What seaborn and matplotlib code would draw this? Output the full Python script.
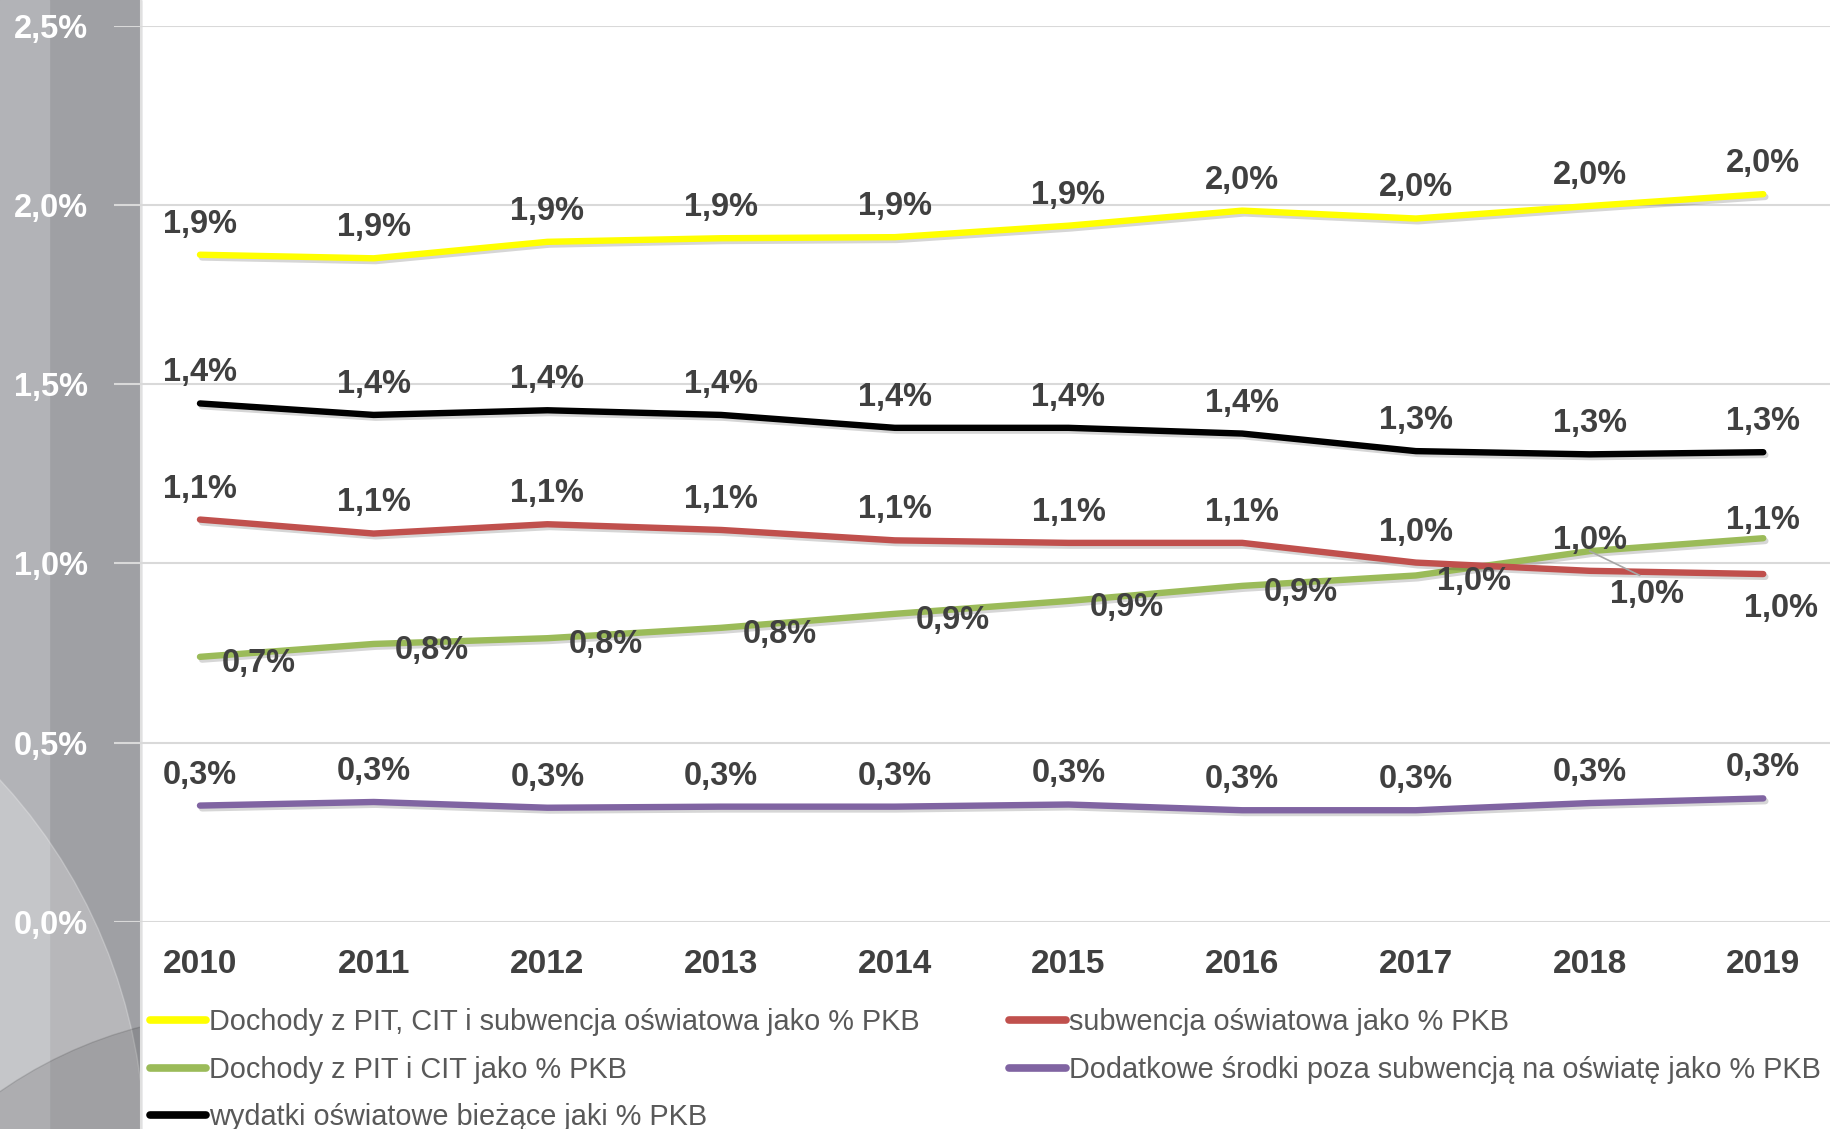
"""Udział dochodów i wydatków oświatowych JST w PKB, 2010-2019."""

import matplotlib

matplotlib.use("Agg")
import matplotlib.patheffects as pe
import matplotlib.pyplot as plt
import pandas as pd
import seaborn as sns
from matplotlib.lines import Line2D
from matplotlib.patches import Circle, Rectangle
from matplotlib.ticker import FuncFormatter

# --- dane (% PKB) ---
years = [2010, 2011, 2012, 2013, 2014, 2015, 2016, 2017, 2018, 2019]

pit_cit_subw = [1.861, 1.851, 1.897, 1.907, 1.910, 1.942, 1.984, 1.962, 1.997, 2.030]
pit_cit = [0.739, 0.775, 0.791, 0.820, 0.859, 0.895, 0.937, 0.966, 1.034, 1.070]
wydatki = [1.446, 1.414, 1.427, 1.414, 1.378, 1.378, 1.362, 1.313, 1.304, 1.310]
subwencja = [1.122, 1.083, 1.109, 1.093, 1.064, 1.057, 1.057, 1.002, 0.979, 0.970]
dodatkowe = [0.324, 0.334, 0.318, 0.321, 0.321, 0.327, 0.311, 0.311, 0.331, 0.344]

lab_pit_cit_subw = ["1,9%"] * 6 + ["2,0%"] * 4
lab_pit_cit = ["0,7%", "0,8%", "0,8%", "0,8%", "0,9%", "0,9%", "0,9%", "1,0%", "1,0%", "1,1%"]
lab_wydatki = ["1,4%"] * 7 + ["1,3%"] * 3
lab_subwencja = ["1,1%"] * 7 + ["1,0%"] * 3
lab_dodatkowe = ["0,3%"] * 10

names = [
    "Dochody z PIT, CIT i subwencja oświatowa jako % PKB",
    "Dochody z PIT i CIT jako % PKB",
    "wydatki oświatowe bieżące jaki % PKB",
    "subwencja oświatowa jako % PKB",
    "Dodatkowe środki poza subwencją na oświatę jako % PKB",
]
colors = ["#FFFF00", "#9BBB59", "#000000", "#C0504D", "#8064A2"]

series = dict(zip(names, [pit_cit_subw, pit_cit, wydatki, subwencja, dodatkowe]))
labels = dict(zip(names, [lab_pit_cit_subw, lab_pit_cit, lab_wydatki, lab_subwencja, lab_dodatkowe]))

df = pd.concat(
    [pd.DataFrame({"rok": years, "wartosc": v, "seria": k}) for k, v in series.items()],
    ignore_index=True,
)

sns.set_theme(style="white")
plt.rcParams["font.family"] = ["Liberation Sans", "DejaVu Sans"]

fig = plt.figure(figsize=(18.31, 11.29), dpi=100, facecolor="white")
W, H = 1831, 1129

# szary pasek z lewej strony (tło slajdu)
panel = Rectangle((0, 0), 141 / W, 1, transform=fig.transFigure, color="#9fa0a4", zorder=-5)
fig.patches.append(panel)
fig.patches.append(Rectangle((0, 0), 49 / W, 1, transform=fig.transFigure, color="#b2b3b7", zorder=-4))
arc1 = Circle((-4.0, -0.21), 5.45, transform=fig.dpi_scale_trans, color="white", alpha=0.25, zorder=-3)
arc2 = Circle((2.5, -3.21), 4.37, transform=fig.dpi_scale_trans, color="black", alpha=0.12, zorder=-3)
for c in (arc1, arc2):
    c.set_clip_path(panel)
    fig.patches.append(c)
fig.lines.append(Line2D([141 / W, 141 / W], [0, 1], transform=fig.transFigure, color="#e0e0e0", lw=1.5, zorder=-2))

ax = fig.add_axes([114 / W, 1 - 921.7 / H, 1 - 114 / W, (921.7 - 25.7) / H])
ax.set_facecolor("none")

shadow = [pe.SimpleLineShadow(offset=(1.5, -2), shadow_color="black", alpha=0.16), pe.Normal()]
sns.lineplot(
    data=df, x="rok", y="wartosc", hue="seria", hue_order=names, palette=colors,
    lw=4.6, legend=False, ax=ax, solid_capstyle="round", path_effects=shadow, zorder=3,
)

ax.set_xlim(2009.505, 2019.39)
ax.set_ylim(0, 2.5)
ax.set_yticks([0, 0.5, 1.0, 1.5, 2.0, 2.5])
ax.yaxis.set_major_formatter(FuncFormatter(lambda v, _: f"{v:.1f}%".replace(".", ",")))
ax.set_xticks(years)
ax.grid(axis="y", color="#d9d9d9", lw=1.5)
ax.grid(axis="x", visible=False)
ax.set_axisbelow(True)
sns.despine(ax=ax, left=True, bottom=True)
ax.set_xlabel("")
ax.set_ylabel("")
ax.tick_params(axis="y", length=0, pad=19, labelsize=23.5, labelcolor="white")
ax.tick_params(axis="x", length=0, pad=20, labelsize=24, labelcolor="#404040")
for t in ax.get_xticklabels() + ax.get_yticklabels():
    t.set_fontweight("bold")

# etykiety danych (przesunięcia w punktach)
offsets = {
    names[0]: (0, 22),
    names[1]: (42, -4.5),
    names[2]: (0, 22),
    names[3]: (0, 22),
    names[4]: (0, 22),
}
special = {
    (names[1], 2018): (41, -31),
    (names[1], 2019): (0, 13),
    (names[3], 2019): (13, -25),
}
for name in names:
    for yr, val, txt in zip(years, series[name], labels[name]):
        dx, dy = special.get((name, yr), offsets[name])
        kw = {}
        if (name, yr) == (names[1], 2018):
            kw["arrowprops"] = dict(arrowstyle="-", color="#a6a6a6", lw=1.2,
                                    shrinkA=0, shrinkB=0, relpos=(0.5, 1.0))
        ax.annotate(txt, (yr, val), xytext=(dx, dy), textcoords="offset points",
                    ha="center", va="center", fontsize=23.5, fontweight="bold",
                    color="#404040", zorder=5, **kw)

handles = [Line2D([], [], color=c, lw=5.5, solid_capstyle="round") for c in colors]
fig.legend(
    handles, names, loc="upper left", bbox_to_anchor=(150 / W, 1 - 1008 / H),
    ncol=2, frameon=False, fontsize=20.8, labelcolor="#595959", handlelength=1.95,
    handletextpad=0.1, columnspacing=3.1, labelspacing=0.68, borderpad=0, borderaxespad=0,
)

fig.savefig("out.png", dpi=100)
